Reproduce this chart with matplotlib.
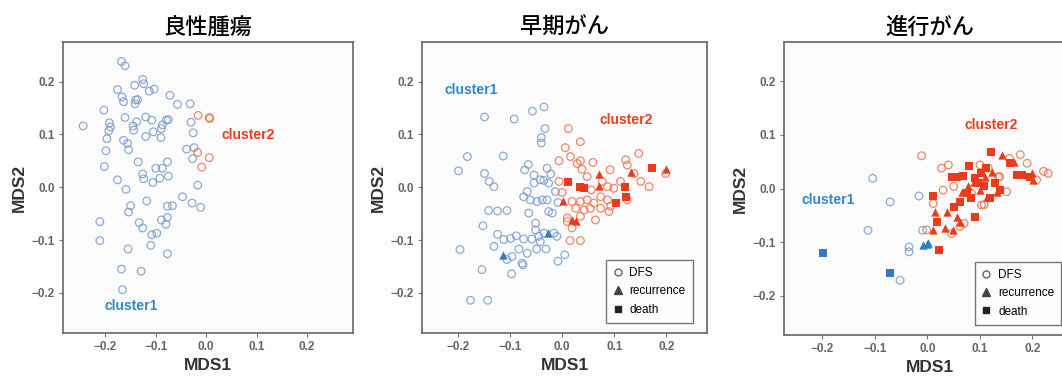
import matplotlib.pyplot as plt
from matplotlib.lines import Line2D

plt.rcParams['font.family'] = ['Liberation Sans', 'DejaVu Sans']

titles = ["良性腫瘍", "早期がん", "進行がん"]
ticks = [-0.2, -0.1, 0.0, 0.1, 0.2]
tick_labels = ["\u22120.2", "\u22120.1", "0.0", "0.1", "0.2"]

# --- benign (panel 1) ---
benign_c1_x = [-0.168, -0.161, -0.126, -0.124, -0.142, -0.103, -0.113, -0.176, -0.167, -0.072,
               -0.136, -0.140, -0.164, -0.141, -0.057, -0.032, -0.203, -0.161, -0.120, -0.108,
               -0.079, -0.075, -0.192, -0.138, -0.087, -0.030, -0.244, -0.190, -0.145, -0.089,
               -0.144, -0.193, -0.105, -0.026, -0.120, -0.090, -0.197, -0.164, -0.156, -0.154,
               -0.199, -0.039, -0.024, -0.027, -0.135, -0.077, -0.100, -0.087, -0.202, -0.126,
               -0.092, -0.075, -0.124, -0.176, -0.106, -0.017, -0.159, -0.047, -0.028, -0.118,
               -0.011, -0.150, -0.077, -0.067, -0.154, -0.077, -0.089, -0.211, -0.133, -0.080,
               -0.126, -0.098, -0.108, -0.211, -0.110, -0.155, -0.077, -0.168, -0.129, -0.166]
benign_c1_y = [0.238, 0.230, 0.204, 0.196, 0.193, 0.186, 0.182, 0.185, 0.171, 0.174,
               0.166, 0.165, 0.162, 0.158, 0.157, 0.158, 0.146, 0.132, 0.133, 0.127,
               0.127, 0.128, 0.122, 0.124, 0.118, 0.123, 0.116, 0.114, 0.116, 0.111,
               0.108, 0.107, 0.105, 0.103, 0.096, 0.094, 0.092, 0.089, 0.083, 0.071,
               0.069, 0.072, 0.075, 0.054, 0.048, 0.048, 0.036, 0.036, 0.039, 0.025,
               0.017, 0.021, 0.016, 0.014, 0.009, 0.004, -0.004, -0.018, -0.030, -0.026,
               -0.038, -0.035, -0.036, -0.035, -0.047, -0.057, -0.062, -0.065, -0.067, -0.070,
               -0.077, -0.087, -0.090, -0.101, -0.110, -0.117, -0.126, -0.155, -0.159, -0.194]
benign_c2_x = [-0.016, 0.006, 0.007, -0.017, 0.006, -0.009]
benign_c2_y = [0.136, 0.132, 0.130, 0.066, 0.056, 0.038]

# --- early cancer (panel 2) ---
early_c1_dfs_x = [-0.149, -0.092, -0.057, -0.035, -0.033, -0.040, -0.040, -0.182, -0.113, -0.199,
                  -0.149, -0.140, -0.131, -0.065, -0.072, -0.029, -0.054, -0.042, -0.035, -0.022,
                  -0.026, -0.054, -0.067, -0.074, -0.061, -0.048, -0.038, -0.029, -0.013, -0.008,
                  -0.141, -0.124, -0.106, -0.064, -0.026, -0.019, -0.051, -0.051, -0.045, -0.035,
                  -0.016, -0.010, -0.152, -0.124, -0.112, -0.099, -0.088, -0.074, -0.058, -0.131,
                  -0.083, -0.067, -0.049, -0.031, -0.042, -0.196, -0.106, -0.096, -0.075, -0.077,
                  0.005, -0.008, -0.154, -0.097, -0.176, -0.143]
early_c1_dfs_y = [0.133, 0.129, 0.144, 0.152, 0.111, 0.094, 0.084, 0.058, 0.059, 0.031,
                  0.026, 0.011, 0.001, 0.043, 0.033, 0.036, 0.023, 0.014, 0.013, 0.025,
                  0.008, 0.008, -0.008, -0.018, -0.024, -0.027, -0.024, -0.024, -0.008, -0.029,
                  -0.044, -0.045, -0.044, -0.049, -0.046, -0.049, -0.068, -0.081, -0.093, -0.087,
                  -0.087, -0.093, -0.073, -0.089, -0.099, -0.097, -0.092, -0.098, -0.098, -0.112,
                  -0.117, -0.125, -0.117, -0.117, -0.103, -0.118, -0.137, -0.131, -0.147, -0.144,
                  -0.128, -0.140, -0.156, -0.164, -0.214, -0.214]
early_c1_rec_x = [-0.113, -0.027]
early_c1_rec_y = [-0.129, -0.086]
early_c2_dfs_x = [0.012, 0.006, 0.035, 0.016, -0.006, 0.035, 0.029, 0.038, 0.059, 0.092,
                  0.122, 0.125, 0.147, 0.138, 0.151, 0.167, 0.199, -0.006, 0.000, 0.048,
                  0.056, 0.077, 0.087, 0.099, 0.112, 0.019, 0.035, 0.048, 0.061, 0.074,
                  0.087, 0.093, 0.125, 0.026, 0.042, 0.054, 0.074, 0.090, 0.010, 0.035,
                  0.064, 0.019, 0.015, 0.035, 0.010]
early_c2_dfs_y = [0.111, 0.075, 0.086, 0.058, 0.050, 0.050, 0.045, 0.034, 0.047, 0.033,
                  0.052, 0.042, 0.064, 0.026, 0.011, 0.001, 0.026, 0.011, -0.010, 0.020,
                  -0.005, 0.011, 0.001, -0.002, 0.011, -0.027, -0.027, -0.024, -0.030, -0.018,
                  -0.024, -0.036, -0.024, -0.040, -0.043, -0.040, -0.040, -0.046, -0.058, -0.055,
                  -0.062, -0.077, -0.101, -0.101, -0.065]
early_c2_rec_x = [0.001, 0.071, 0.071, 0.133, 0.200, 0.026, 0.019]
early_c2_rec_y = [-0.027, 0.025, 0.003, 0.028, 0.034, -0.063, -0.062]
early_c2_death_x = [0.012, 0.035, 0.042, 0.120, 0.122, 0.103, 0.173]
early_c2_death_y = [0.009, 0.001, -0.002, 0.001, -0.018, -0.030, 0.037]

# --- advanced cancer (panel 3) ---
adv_c1_dfs_x = [-0.104, -0.071, -0.016, -0.113, -0.009, -0.035, -0.035, -0.052]
adv_c1_dfs_y = [0.019, -0.025, -0.014, -0.078, -0.078, -0.109, -0.118, -0.171]
adv_c1_rec_x = [-0.009, -0.001, 0.002]
adv_c1_rec_y = [-0.105, -0.103, -0.102]
adv_c1_death_x = [-0.199, -0.072]
adv_c1_death_y = [-0.120, -0.158]
adv_c2_dfs_x = [-0.011, 0.027, 0.040, 0.100, 0.116, 0.177, 0.190, 0.221, 0.230, 0.208,
                0.151, 0.103, 0.030, 0.011, -0.001, 0.046, 0.062, 0.084, 0.138, 0.050,
                0.070, 0.108, 0.135, 0.156]
adv_c2_dfs_y = [0.061, 0.038, 0.044, 0.044, 0.038, 0.063, 0.047, 0.032, 0.028, 0.016,
                -0.006, -0.031, -0.003, -0.028, -0.077, -0.084, -0.071, -0.009, 0.022, 0.004,
                -0.065, -0.030, 0.022, 0.056]
adv_c2_rec_x = [0.142, 0.164, 0.199, 0.202, 0.110, 0.100, 0.113, 0.132, 0.078, 0.065,
                0.037, 0.015, 0.034, 0.011, 0.056, 0.049, 0.062, 0.088, 0.123]
adv_c2_rec_y = [0.063, 0.050, 0.029, 0.016, 0.022, -0.003, -0.015, -0.006, 0.004, -0.006,
                -0.043, -0.043, -0.074, -0.077, -0.053, -0.077, -0.062, 0.012, 0.030]
adv_c2_death_x = [0.121, 0.080, 0.046, 0.057, 0.067, 0.103, 0.097, 0.108, 0.075, 0.084,
                  0.119, 0.138, 0.129, 0.157, 0.170, 0.180, 0.196, 0.010, 0.091, 0.019,
                  0.022, 0.050, 0.062, 0.112, 0.090]
adv_c2_death_y = [0.068, 0.041, 0.022, 0.021, 0.023, 0.029, 0.010, 0.004, -0.009, -0.018,
                  -0.018, -0.003, 0.010, 0.047, 0.026, 0.026, 0.022, -0.014, -0.053, -0.062,
                  -0.115, -0.034, -0.025, 0.038, 0.020]

blue_open = '#7a9bd0'
red_open = '#f0714f'
blue_fill = '#2f7cc2'
red_fill = '#ec3a1c'
blue_text = '#2d88cc'
red_text = '#ee3b1e'

W, H = 1062, 381
fig = plt.figure(figsize=(W / 100, H / 100), dpi=100)


def make_axes(left, right, top, bottom, xlim, ylim, title):
    ax = fig.add_axes([left / W, 1 - bottom / H, (right - left) / W, (bottom - top) / H])
    ax.set_facecolor('#fcfcfc')
    ax.set_xlim(xlim)
    ax.set_ylim(ylim)
    ax.set_xticks(ticks)
    ax.set_xticklabels(tick_labels)
    ax.set_yticks(ticks)
    ax.set_yticklabels(tick_labels)
    ax.tick_params(length=3, width=0.8, color='#777777', labelsize=8.5, labelcolor='#666666', pad=3)
    for lbl in ax.get_xticklabels() + ax.get_yticklabels():
        lbl.set_fontweight('bold')
    for sp in ax.spines.values():
        sp.set_color('#6b6360')
        sp.set_linewidth(1.2)
    ax.set_xlabel("MDS1", fontsize=12.5, fontweight='bold', color='#333333', labelpad=3)
    ax.set_ylabel("MDS2", fontsize=12.5, fontweight='bold', color='#333333', labelpad=3)
    ax.set_title(title, fontsize=16, family=['Noto Sans CJK JP'], fontweight='medium', pad=6)
    return ax


def open_pts(ax, x, y, color):
    ax.scatter(x, y, s=30, facecolors='none', edgecolors=color, linewidths=0.9, alpha=0.85)


def add_legend(ax):
    handles = [
        Line2D([], [], ls='none', marker='o', markersize=5, markerfacecolor='none',
               markeredgecolor='#666666', label='DFS'),
        Line2D([], [], ls='none', marker='^', markersize=5.5, color='#444444', label='recurrence'),
        Line2D([], [], ls='none', marker='s', markersize=4.5, color='#222222', label='death'),
    ]
    leg = ax.legend(handles=handles, loc='lower right', bbox_to_anchor=(0.97, 0.015),
                    fontsize=8.5, frameon=True, fancybox=False, edgecolor='#555555',
                    handlelength=0.8, handletextpad=0.6, labelspacing=0.55, borderpad=0.6)
    leg.get_frame().set_linewidth(1.0)


# panel 1
ax1 = make_axes(63, 353, 42, 333, (-0.284, 0.291), (-0.276, 0.275), titles[0])
open_pts(ax1, benign_c1_x, benign_c1_y, blue_open)
open_pts(ax1, benign_c2_x, benign_c2_y, red_open)
ax1.text(0.083, 0.099, "cluster2", color=red_text, fontsize=10, fontweight='bold', ha='center', va='center')
ax1.text(-0.148, -0.225, "cluster1", color=blue_text, fontsize=10, fontweight='bold', ha='center', va='center')

# panel 2
ax2 = make_axes(422, 707, 42, 333, (-0.269, 0.278), (-0.276, 0.275), titles[1])
open_pts(ax2, early_c1_dfs_x, early_c1_dfs_y, blue_open)
open_pts(ax2, early_c2_dfs_x, early_c2_dfs_y, red_open)
ax2.scatter(early_c1_rec_x, early_c1_rec_y, s=36, marker='^', color=blue_fill, linewidths=0)
ax2.scatter(early_c2_rec_x, early_c2_rec_y, s=36, marker='^', color=red_fill, linewidths=0)
ax2.scatter(early_c2_death_x, early_c2_death_y, s=26, marker='s', color=red_fill, linewidths=0)
ax2.text(-0.175, 0.185, "cluster1", color=blue_text, fontsize=10, fontweight='bold', ha='center', va='center')
ax2.text(0.123, 0.127, "cluster2", color=red_text, fontsize=10, fontweight='bold', ha='center', va='center')
add_legend(ax2)

# panel 3 (runs off the right edge of the picture)
ax3 = make_axes(784, 1076, 42, 335, (-0.273, 0.283), (-0.273, 0.273), titles[2])
open_pts(ax3, adv_c1_dfs_x, adv_c1_dfs_y, blue_open)
open_pts(ax3, adv_c2_dfs_x, adv_c2_dfs_y, red_open)
ax3.scatter(adv_c1_rec_x, adv_c1_rec_y, s=36, marker='^', color=blue_fill, linewidths=0)
ax3.scatter(adv_c1_death_x, adv_c1_death_y, s=26, marker='s', color=blue_fill, linewidths=0)
ax3.scatter(adv_c2_rec_x, adv_c2_rec_y, s=36, marker='^', color=red_fill, linewidths=0)
ax3.scatter(adv_c2_death_x, adv_c2_death_y, s=26, marker='s', color=red_fill, linewidths=0)
ax3.text(-0.189, -0.022, "cluster1", color=blue_text, fontsize=10, fontweight='bold', ha='center', va='center')
ax3.text(0.122, 0.118, "cluster2", color=red_text, fontsize=10, fontweight='bold', ha='center', va='center')
add_legend(ax3)

fig.savefig("out.png", dpi=100)
